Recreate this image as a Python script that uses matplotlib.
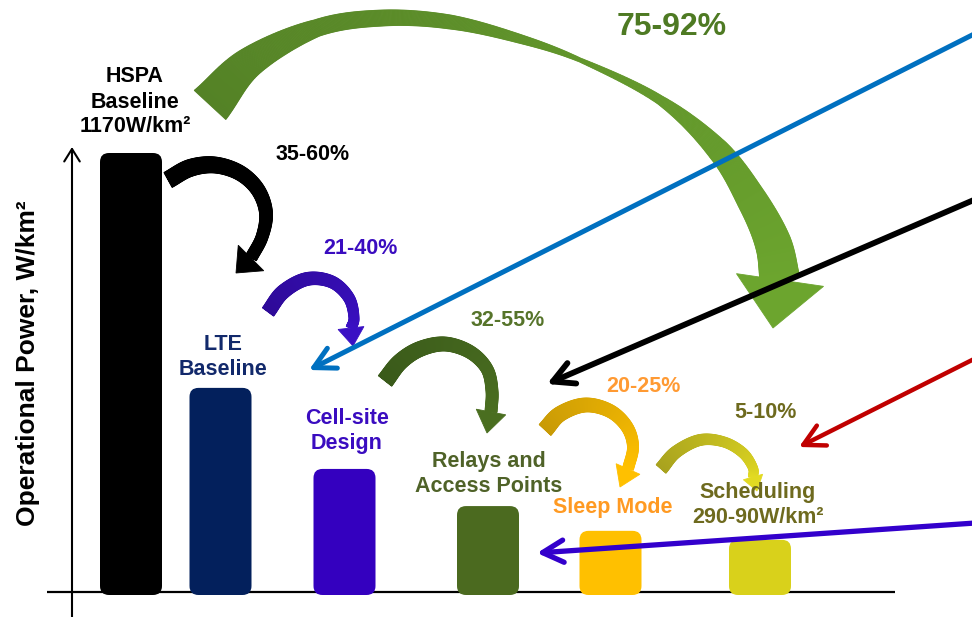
import numpy as np
import matplotlib
matplotlib.use("Agg")
import matplotlib.pyplot as plt
from matplotlib.patches import FancyBboxPatch, Polygon
from matplotlib.colors import to_rgb

# ---------------- data ----------------
categories = ["HSPA Baseline", "LTE Baseline", "Cell-site Design",
              "Relays and Access Points", "Sleep Mode", "Scheduling"]
power = [1170, 544, 328, 229, 163, 139]          # relative operational power, W/km2
bar_colors = ["#000000", "#03205c", "#3400bf", "#4b6a1f", "#ffc000", "#d9d11b"]
bar_labels = ["HSPA\nBaseline\n1170W/km²", "LTE\nBaseline", "Cell-site\nDesign",
              "Relays and\nAccess Points", "Sleep Mode", "Scheduling\n290-90W/km²"]
label_colors = ["#000000", "#12296b", "#3a0cc0", "#4f6228", "#ff9a22", "#6e6a1e"]
step_savings = ["35-60%", "21-40%", "32-55%", "20-25%", "5-10%"]
saving_colors = ["#000000", "#3a0cc0", "#56742a", "#ff9a33", "#6e6a1e"]
total_saving = "75-92%"
ylabel = "Operational Power, W/km²"

# ---------------- layout ----------------
W, H = 972, 617
base_px = 592
scale = 1170 / 439.0             # value units per pixel
bar_x = [131, 220.5, 344.5, 488, 610.5, 760]
bar_w = 62
FONT = "Liberation Sans"

fig = plt.figure(figsize=(W / 100, H / 100), dpi=100)
ax = fig.add_axes([0, 0, 1, 1])
ax.set_xlim(0, W)
ax.set_ylim(-(H - base_px) * scale, base_px * scale)
ax.axis("off")

# baseline (under bars)
ax.plot([47, 895], [0, 0], color="black", lw=1.6, zorder=1, solid_capstyle="butt")

pad = 3 * scale
bars = ax.bar(bar_x, np.array(power) + pad, bottom=-pad, width=bar_w,
              color=bar_colors, visible=False)
for rect, c in zip(bars, bar_colors):
    fb = FancyBboxPatch((rect.get_x(), rect.get_y()), rect.get_width(), rect.get_height(),
                        boxstyle="round,pad=0,rounding_size=9", mutation_aspect=scale,
                        facecolor=c, edgecolor="none", zorder=2)
    ax.add_patch(fb)

# overlay in pixel coordinates
ov = fig.add_axes([0, 0, 1, 1])
ov.set_xlim(0, W)
ov.set_ylim(H, 0)
ov.axis("off")
ov.patch.set_alpha(0)


def catmull(points, n=60):
    P = np.array(points, float)
    P = np.vstack([2 * P[0] - P[1], P, 2 * P[-1] - P[-2]])
    out = []
    t = np.linspace(0, 1, n, endpoint=False)[:, None]
    t2, t3 = t * t, t * t * t
    for i in range(1, len(P) - 2):
        p0, p1, p2, p3 = P[i - 1], P[i], P[i + 1], P[i + 2]
        c = 0.5 * ((2 * p1) + (-p0 + p2) * t + (2 * p0 - 5 * p1 + 4 * p2 - p3) * t2
                   + (-p0 + 3 * p1 - 3 * p2 + p3) * t3)
        out.append(c)
    out.append(P[-2][None, :])
    return np.vstack(out), n


def curved_arrow(pts, widths, tip, half_head, c0, c1, z=5):
    curve, n = catmull(pts)
    m = len(curve)
    param = np.arange(m) / n
    w = np.interp(param, np.arange(len(widths)), widths)
    d = np.gradient(curve, axis=0)
    d /= np.linalg.norm(d, axis=1)[:, None]
    nrm = np.column_stack([-d[:, 1], d[:, 0]])
    left = curve + nrm * w[:, None] / 2
    right = curve - nrm * w[:, None] / 2
    a, b = np.array(to_rgb(c0)), np.array(to_rgb(c1))
    for i in range(m - 1):
        f = i / (m - 2)
        col = a + (b - a) * f
        poly = [left[i], left[i + 1], right[i + 1], right[i]]
        ov.add_patch(Polygon(poly, closed=True, facecolor=col, edgecolor=col,
                             lw=0.6, zorder=z))
    end = curve[-1]
    tip = np.array(tip, float)
    dd = tip - end
    dd /= np.linalg.norm(dd)
    nn = np.array([-dd[1], dd[0]])
    head = [end + nn * half_head, tip, end - nn * half_head]
    ov.add_patch(Polygon(head, closed=True, facecolor=b, edgecolor=b, lw=0.6, zorder=z))


# big green arrow
curved_arrow([(210, 105), (250, 62), (317, 28), (383, 18), (450, 22), (517, 38),
              (580, 60), (660, 100), (718, 150), (752, 200), (773, 243), (780, 280)],
             [43, 30, 17, 16, 14, 9, 4, 9, 22, 30, 36, 40],
             (773, 328), 44, "#548226", "#6ca52e", z=3)

# step arrows
curved_arrow([(168, 180), (190, 168), (215, 165), (240, 173), (258, 190), (266, 213),
              (262, 237), (251, 258)], [17, 17, 16, 15, 14, 13, 12, 12],
             (236, 273), 18, "#000000", "#000000")
curved_arrow([(268, 312), (283, 292), (307, 279), (332, 282), (349, 298), (354, 318),
              (351, 328)], [14, 14, 13, 12, 11, 10, 10],
             (353, 346), 13, "#2e0a98", "#3a10c4")
curved_arrow([(385, 381), (400, 362), (420, 349), (445, 344), (470, 352), (487, 369),
              (492, 391), (491, 412)], [17, 16, 15, 14, 13, 12, 12, 12],
             (487, 433), 15, "#3a5a1a", "#4a6e20")
curved_arrow([(545, 430), (560, 414), (585, 405), (610, 411), (627, 427), (633, 447),
              (628, 469)], [16, 15, 14, 13, 12, 11, 11],
             (620, 487), 13, "#c89a06", "#ffc000")
curved_arrow([(661, 469), (676, 452), (700, 440), (724, 442), (743, 453), (753, 468),
              (753, 477)], [13, 12, 11, 10, 10, 9, 9],
             (757, 491), 10, "#a8a21e", "#e2da22")

# straight pointer arrows
def pointer(start, tip, color, lw):
    ov.annotate("", xy=tip, xytext=start,
                arrowprops=dict(arrowstyle="->,head_length=0.75,head_width=0.4",
                                lw=lw, color=color, shrinkA=0, shrinkB=0,
                                mutation_scale=20),
                zorder=8)

pointer((990, 26), (309, 370), "#0070c0", 3.6)
pointer((990, 193), (547, 384), "#000000", 4.2)
pointer((990, 351), (799, 447), "#c00000", 3.2)
pointer((990, 522), (537, 553), "#3300cc", 3.8)

# vertical axis arrow
ov.annotate("", xy=(72, 147), xytext=(72, 617),
            arrowprops=dict(arrowstyle="->,head_length=0.45,head_width=0.28", lw=1.5,
                            color="black", shrinkA=0, shrinkB=0, mutation_scale=20),
            zorder=6)

# y label
ov.text(28, 363, ylabel, rotation=90, ha="center", va="center", fontsize=19,
        fontweight="bold", family=FONT, color="black")

# bar labels
label_pos = [(135, 102), (223, 357), (347, 431), (489, 474), (613, 508), (758, 505)]
for (x, y), t, c in zip(label_pos, bar_labels, label_colors):
    ov.text(x, y, t, ha="center", va="center", fontsize=15.5, fontweight="bold",
            family=FONT, color=c, linespacing=1.25, zorder=9)

# step savings
saving_pos = [(313, 154), (360, 249), (508, 320), (643, 387), (765, 413)]
for (x, y), t, c in zip(saving_pos, step_savings, saving_colors):
    ov.text(x, y, t, ha="center", va="center", fontsize=15.5, fontweight="bold",
            family=FONT, color=c, zorder=9)

ov.text(672, 27, total_saving, ha="center", va="center", fontsize=23,
        fontweight="bold", family=FONT, color="#4e7a23", zorder=9)

fig.savefig("out.png", dpi=100)
